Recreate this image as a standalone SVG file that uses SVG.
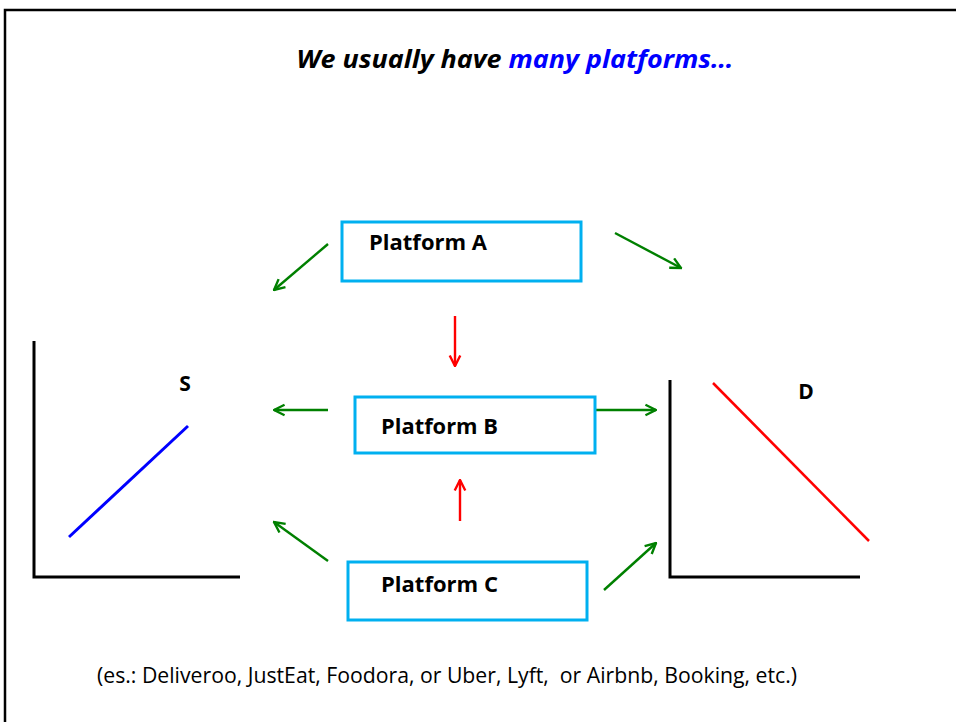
<svg xmlns="http://www.w3.org/2000/svg" width="956" height="722" viewBox="0 0 956 722">
<style>
  .frame { fill: none; stroke: #000; stroke-width: 2.5; }
  .box { fill: #fff; stroke: #00B0F0; stroke-width: 3; }
  .lbl { font-family: "Open Sans", "Liberation Sans", sans-serif; font-weight: bold; font-size: 21px; fill: #000; }
  .g { stroke: #008000; stroke-width: 2.4; fill: none; marker-end: url(#ag); }
  .r { stroke: #FF0000; stroke-width: 2.4; fill: none; marker-end: url(#ar); }
  .axis { stroke: #000; stroke-width: 3; fill: none; }
</style>
<defs>
  <marker id="ag" viewBox="0 0 10 10" refX="9" refY="5" markerWidth="5.5" markerHeight="5.5" orient="auto" markerUnits="strokeWidth">
    <polyline points="1,1 9,5 1,9" fill="none" stroke="#008000" stroke-width="1.8"/>
  </marker>
  <marker id="ar" viewBox="0 0 10 10" refX="9" refY="5" markerWidth="5.5" markerHeight="5.5" orient="auto" markerUnits="strokeWidth">
    <polyline points="1,1 9,5 1,9" fill="none" stroke="#FF0000" stroke-width="1.8"/>
  </marker>
</defs>
<rect width="956" height="722" fill="#fff"/>
<path class="frame" d="M5,722 V10 H960"/>
<text x="515" y="68" text-anchor="middle" font-family="Open Sans, Liberation Sans, sans-serif" font-weight="bold" font-style="italic" font-size="25" textLength="437" lengthAdjust="spacingAndGlyphs"><tspan fill="#000">We usually have </tspan><tspan fill="#0000FF">many platforms…</tspan></text>

<g id="connectors">
  <line class="g" x1="328" y1="244" x2="274" y2="290"/>
  <line class="g" x1="615" y1="233" x2="681" y2="268"/>
  <line class="g" x1="328" y1="410" x2="274" y2="410"/>
  <line class="g" x1="595" y1="410" x2="656" y2="410"/>
  <line class="g" x1="328" y1="561" x2="274" y2="522"/>
  <line class="g" x1="604" y1="590" x2="656" y2="543"/>
  <line class="r" x1="455" y1="316" x2="455" y2="366"/>
  <line class="r" x1="460" y1="521" x2="460" y2="480"/>
</g>

<g id="platformA">
  <rect class="box" x="342" y="222" width="239" height="59"/>
  <text class="lbl" x="369" y="250" textLength="118" lengthAdjust="spacingAndGlyphs">Platform A</text>
</g>
<g id="platformB">
  <rect class="box" x="355" y="397" width="240" height="56"/>
  <text class="lbl" x="381" y="434" textLength="117" lengthAdjust="spacingAndGlyphs">Platform B</text>
</g>
<g id="platformC">
  <rect class="box" x="348" y="562" width="239" height="58"/>
  <text class="lbl" x="381" y="592" textLength="117" lengthAdjust="spacingAndGlyphs">Platform C</text>
</g>

<g id="supply">
  <path class="axis" d="M34,341 V577 H240"/>
  <line x1="69" y1="537" x2="188" y2="426" stroke="#0000FF" stroke-width="3"/>
  <text class="lbl" x="185" y="391" text-anchor="middle" font-size="18">S</text>
</g>
<g id="demand">
  <path class="axis" d="M670,380 V577 H860"/>
  <line x1="713" y1="383" x2="869" y2="541" stroke="#FF0000" stroke-width="2.5"/>
  <text class="lbl" x="806" y="399" text-anchor="middle" font-size="19">D</text>
</g>

<text x="97" y="683" font-family="Open Sans, Liberation Sans, sans-serif" font-size="21" fill="#000" xml:space="preserve" textLength="700" lengthAdjust="spacingAndGlyphs">(es.: Deliveroo, JustEat, Foodora, or Uber, Lyft,  or Airbnb, Booking, etc.)</text>
</svg>
